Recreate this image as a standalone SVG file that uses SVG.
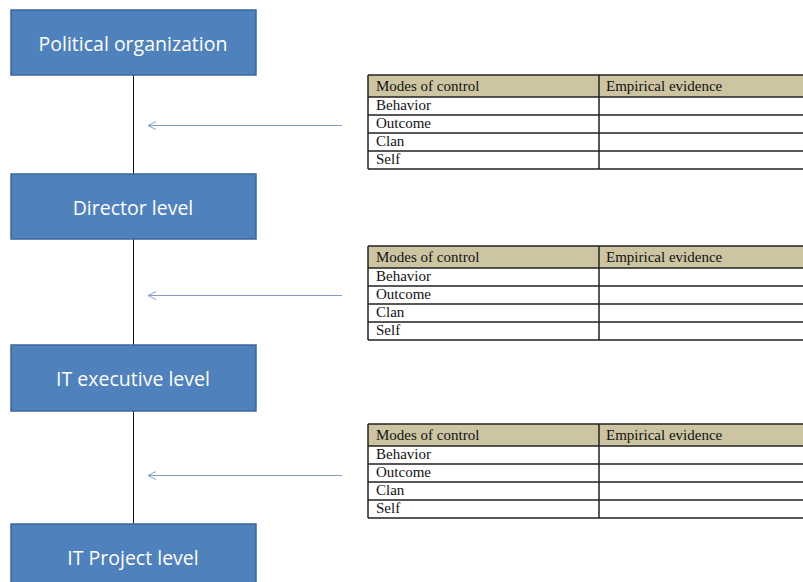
<svg xmlns="http://www.w3.org/2000/svg" width="803" height="582" viewBox="0 0 803 582">
  <defs>
    <style>
      .box { fill: #4F81BD; stroke: #3A669A; stroke-width: 1.5; }
      .boxtext { fill: #FFFFFF; font-family: "Open Sans", "Liberation Sans", sans-serif; font-size: 19.5px; text-anchor: middle; dominant-baseline: central; }
      .link { stroke: #111111; stroke-width: 1; fill: none; }
      .arrow { stroke: #7F9FC0; stroke-width: 1; fill: none; marker-end: url(#open); }
      .hdr { fill: #CDC5A2; }
      .grid { stroke: #222222; stroke-width: 1.5; fill: none; }
      .ttext { fill: #111111; font-family: "Liberation Serif", "Times New Roman", serif; font-size: 15px; dominant-baseline: central; }
    </style>
    <marker id="open" viewBox="0 0 10 10" refX="9" refY="5" markerWidth="10" markerHeight="10" markerUnits="userSpaceOnUse" orient="auto">
      <path d="M1,1 L9,5 L1,9" fill="none" stroke="#7F9FC0" stroke-width="1"/>
    </marker>
  </defs>
  <rect width="803" height="582" fill="#FFFFFF"/>

  <g id="connectors">
    <line class="link" x1="133.5" y1="75" x2="133.5" y2="174"/>
    <line class="link" x1="133.5" y1="239" x2="133.5" y2="345"/>
    <line class="link" x1="133.5" y1="411" x2="133.5" y2="524"/>
    <line class="arrow" x1="342" y1="125.5" x2="148" y2="125.5"/>
    <line class="arrow" x1="342" y1="295.5" x2="148" y2="295.5"/>
    <line class="arrow" x1="342" y1="475.5" x2="148" y2="475.5"/>
  </g>

  <g id="political-organization">
    <rect class="box" x="11" y="10" width="245" height="65"/>
    <text class="boxtext" x="133" y="43">Political organization</text>
  </g>
  <g id="director-level">
    <rect class="box" x="11" y="174" width="245" height="65"/>
    <text class="boxtext" x="133" y="207">Director level</text>
  </g>
  <g id="it-executive-level">
    <rect class="box" x="11" y="345" width="245" height="66"/>
    <text class="boxtext" x="133" y="378">IT executive level</text>
  </g>
  <g id="it-project-level">
    <rect class="box" x="11" y="524" width="245" height="66"/>
    <text class="boxtext" x="133" y="557">IT Project level</text>
  </g>

  <g id="table-1" transform="translate(0,0)">
    <rect class="hdr" x="368" y="75" width="440" height="22"/>
    <path class="grid" d="M368,75 H808 M368,97 H808 M368,115 H808 M368,133 H808 M368,151 H808 M368,169 H808 M368,75 V169 M599,75 V169"/>
    <text class="ttext" x="376" y="86">Modes of control</text>
    <text class="ttext" x="606" y="86">Empirical evidence</text>
    <text class="ttext" x="376" y="105">Behavior</text>
    <text class="ttext" x="376" y="123">Outcome</text>
    <text class="ttext" x="376" y="141">Clan</text>
    <text class="ttext" x="376" y="159">Self</text>
  </g>
  <g id="table-2" transform="translate(0,171)">
    <rect class="hdr" x="368" y="75" width="440" height="22"/>
    <path class="grid" d="M368,75 H808 M368,97 H808 M368,115 H808 M368,133 H808 M368,151 H808 M368,169 H808 M368,75 V169 M599,75 V169"/>
    <text class="ttext" x="376" y="86">Modes of control</text>
    <text class="ttext" x="606" y="86">Empirical evidence</text>
    <text class="ttext" x="376" y="105">Behavior</text>
    <text class="ttext" x="376" y="123">Outcome</text>
    <text class="ttext" x="376" y="141">Clan</text>
    <text class="ttext" x="376" y="159">Self</text>
  </g>
  <g id="table-3" transform="translate(0,349)">
    <rect class="hdr" x="368" y="75" width="440" height="22"/>
    <path class="grid" d="M368,75 H808 M368,97 H808 M368,115 H808 M368,133 H808 M368,151 H808 M368,169 H808 M368,75 V169 M599,75 V169"/>
    <text class="ttext" x="376" y="86">Modes of control</text>
    <text class="ttext" x="606" y="86">Empirical evidence</text>
    <text class="ttext" x="376" y="105">Behavior</text>
    <text class="ttext" x="376" y="123">Outcome</text>
    <text class="ttext" x="376" y="141">Clan</text>
    <text class="ttext" x="376" y="159">Self</text>
  </g>
</svg>
